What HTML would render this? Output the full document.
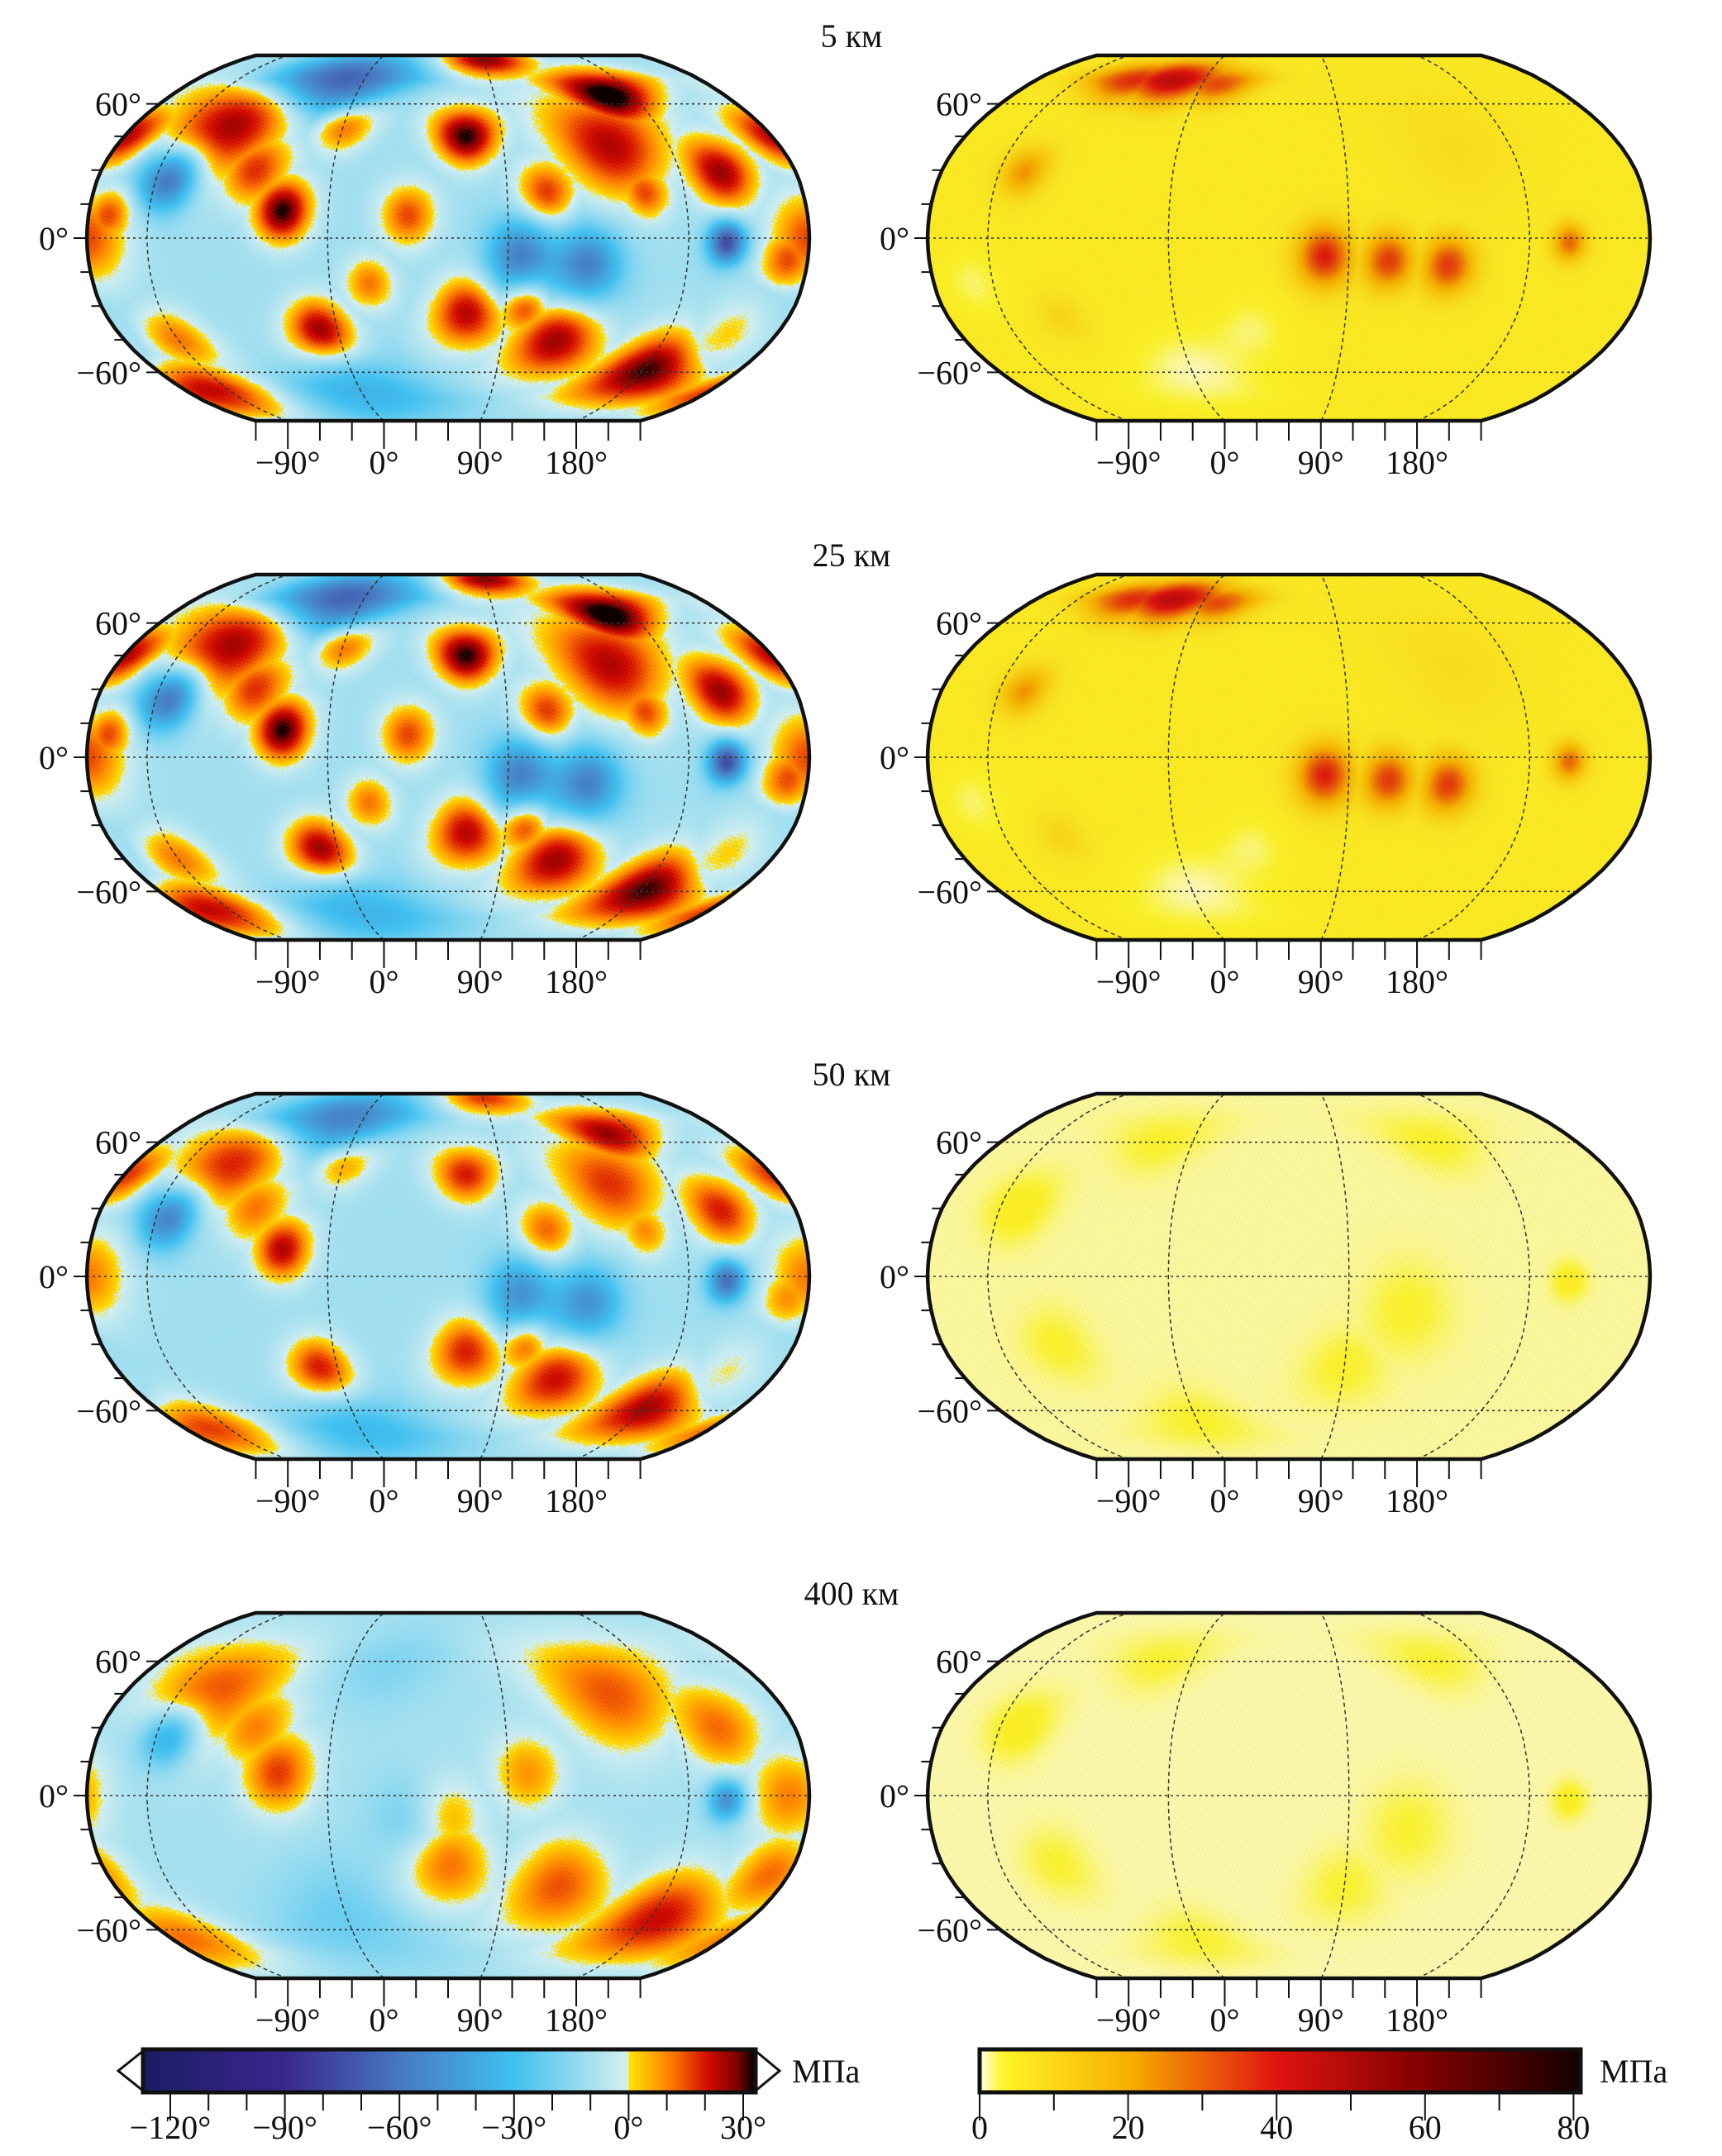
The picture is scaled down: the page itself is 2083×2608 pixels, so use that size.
<!DOCTYPE html>
<html><head><meta charset="utf-8">
<style>
html,body{margin:0;padding:0;background:#fff;}
#page{position:relative;width:2083px;height:2608px;overflow:hidden;background:#fff;}
canvas{position:absolute;}
svg{position:absolute;left:0;top:0;}
text{font-family:"Liberation Serif",serif;fill:#111;}
</style></head>
<body>
<div id="page">
<svg id="ov" width="2083" height="2608"></svg>
</div>
<script>
// ---- data ----
const rowTitles = ["5 км","25 км","50 км","400 км"];
const lonTickLabels = ["−90°","0°","90°","180°"];
const lonTickValues = [-90,0,90,180];
const latTickLabels = ["60°","0°","−60°"];
const latTickValues = [60,0,-60];
const leftBarTicks = [-120,-90,-60,-30,0,30];
const leftBarLabels = ["−120°","−90°","−60°","−30°","0°","30°"];
const rightBarTicks = [0,20,40,60,80];
const rightBarLabels = ["0","20","40","60","80"];

// left maps shallow: blob lon, lat, amplitude (MPa), radius (deg)
const shLon = [92,164,148,201,-64,-23,70,70,-9,120,184,217,241,-102,-40,40,110,-120,230,20,0,100,160,-90,250,-17,-83,96,130,199,0,-140];
const shLat = [85,64,41,29,49,12,45,-33,-41,-45,-59,-41,45,-70,30,10,20,0,-10,-20,50,-30,20,-45,10,72,26,-8,-12,-2,-70,-40];
const shAmp = [38,46,34,36,36,42,42,34,38,36,42,32,34,34,28,26,28,26,26,22,26,30,26,22,26,-65,-55,-45,-45,-65,-25,-20];
const shRad = [12,14,24,16,24,14,13,16,14,18,18,16,14,16,16,14,14,20,14,12,12,12,12,14,12,16,13,16,16,9,20,16];
// 50 km
const m50Lon = [92,164,148,201,-64,-23,70,70,-9,120,184,217,241,-102,-40,110,-120,230,0,100,160,-17,-83,96,130,199,0,-140];
const m50Lat = [85,64,41,29,49,12,45,-33,-41,-45,-59,-41,45,-70,30,20,0,-10,50,-30,20,72,26,-8,-12,-2,-70,-40];
const m50Amp = [28,36,28,30,30,34,30,30,32,32,36,28,28,28,22,24,22,20,20,26,20,-50,-48,-38,-38,-52,-22,-18];
const m50Rad = [12,14,22,16,22,14,13,16,14,18,18,16,14,16,16,14,20,14,12,12,12,16,13,16,16,9,20,16];
// 400 km
const m400Lon = [150,200,-70,-25,60,120,185,230,-110,-40,100,-130,60,-83,0,199,20,40];
const m400Lat = [45,30,45,10,-30,-40,-55,-35,-65,30,10,0,-10,26,-55,-2,60,-10];
const m400Amp = [24,22,25,26,22,24,31,22,22,20,18,20,16,-35,-12,-40,-8,-10];
const m400Rad = [26,20,26,18,20,22,22,18,18,18,18,20,18,13,25,9,20,18];
// right maps shallow (stress magnitude, MPa)
const rsLon = [-22,-50,10,-77,78,110,140,200,0,-100,40,150,-60];
const rsLat = [72,72,70,29,-8,-10,-12,-2,-60,-20,-40,40,-35];
const rsAmp = [42,32,28,18,34,30,30,24,-4,-3,-3,3,5];
const rsRad = [11,10,9,10,13,12,12,8,20,15,15,25,10];
// right maps deep
const rdLon = [-80,-20,120,200,-60,0,150,90];
const rdLat = [30,60,-15,-2,-30,-65,60,-40];
const rdAmp = [3,2,2,3,2,2,2,2];
const rdRad = [14,14,20,8,15,14,14,16];

const mapSpecs = [
 {row:0,col:0,base:-11,lon:shLon,lat:shLat,amp:shAmp,rad:shRad,cm:'L'},
 {row:1,col:0,base:-11,lon:shLon,lat:shLat,amp:shAmp,rad:shRad,cm:'L'},
 {row:2,col:0,base:-11,lon:m50Lon,lat:m50Lat,amp:m50Amp,rad:m50Rad,cm:'L'},
 {row:3,col:0,base:-10,lon:m400Lon,lat:m400Lat,amp:m400Amp,rad:m400Rad,cm:'L'},
 {row:0,col:1,base:5,lon:rsLon,lat:rsLat,amp:rsAmp,rad:rsRad,cm:'R'},
 {row:1,col:1,base:5,lon:rsLon,lat:rsLat,amp:rsAmp,rad:rsRad,cm:'R'},
 {row:2,col:1,base:1.2,lon:rdLon,lat:rdLat,amp:rdAmp,rad:rdRad,cm:'R'},
 {row:3,col:1,base:1.0,lon:rdLon,lat:rdLat,amp:rdAmp,rad:rdRad,cm:'R'}
];

// ---- geometry ----
const RX=[1,.9986,.9954,.99,.9822,.973,.96,.9427,.9216,.8962,.8679,.835,.7986,.7597,.7186,.6732,.6213,.5722,.5322];
const RY=[0,.062,.124,.186,.248,.31,.372,.434,.4958,.5571,.6176,.6769,.7346,.7903,.8435,.8936,.9394,.9761,1];
const HW=437, S=221, ROWH=628, COLW=1017, CLON=60;
function geo(row,col){return {cx:542+col*COLW, eq:288+row*ROWH};}
function interp(t,a){const f=Math.min(Math.abs(t)/5,17.9999);const i=Math.floor(f);return a[i]+(a[i+1]-a[i])*(f-i);}
function wrap(d){while(d>180)d-=360;while(d<-180)d+=360;return d;}
function proj(rel,lat,g){const X=interp(lat,RX),Y=interp(lat,RY)*Math.sign(lat);
  return [g.cx+rel/180*HW*X, g.eq-Y*S];}
function invLat(Y){const a=Math.abs(Y);let i=0;while(i<17&&RY[i+1]<a)i++;const t=(a-RY[i])/(RY[i+1]-RY[i]);return Math.sign(Y)*(i+t)*5;}

// ---- colormaps ----
const LSt=[[-135,[20,20,80]],[-120,[34,30,110]],[-90,[58,38,140]],[-60,[72,120,192]],[-30,[64,192,240]],[-0.01,[215,240,240]],[0,[255,230,0]],[10,[255,130,0]],[20,[210,10,0]],[27,[128,0,0]],[31,[15,0,0]]];
const RSt=[[0,[255,255,240]],[3,[255,245,40]],[20,[248,176,0]],[40,[224,20,16]],[60,[128,0,0]],[82,[15,0,0]]];
function cmap(v,st){if(v<=st[0][0])return st[0][1];for(let i=0;i<st.length-1;i++){if(v<=st[i+1][0]){const t=(v-st[i][0])/(st[i+1][0]-st[i][0]);return st[i][1].map((c,k)=>c+(st[i+1][1][k]-c)*t);}}return st[st.length-1][1];}

const page=document.getElementById('page');
const ov=document.getElementById('ov');
const NS='http://www.w3.org/2000/svg';
function el(tag,attrs,parent){const e=document.createElementNS(NS,tag);for(const k in attrs)e.setAttribute(k,attrs[k]);(parent||ov).appendChild(e);return e;}

// ---- render fields ----
mapSpecs.forEach(function(m){
  const g=geo(m.row,m.col);
  const W=437,H=222;
  const cv=document.createElement('canvas');
  
  
  cv.width=W;cv.height=H;
  cv.style.left=(g.cx-HW)+'px';cv.style.top=(g.eq-S)+'px';cv.style.width=(W*2)+'px';cv.style.height=(H*2)+'px';
  page.insertBefore(cv,ov);
  const ctx=cv.getContext('2d');const img=ctx.createImageData(W,H);const d=img.data;
  const st=m.cm==='L'?LSt:RSt;
  for(let j=0;j<H;j++){
    const y=g.eq-S+(j+0.5)*2;const Y=(g.eq-y)/S;if(Math.abs(Y)>1)continue;
    const lat=invLat(Y);const X=interp(lat,RX);const cl=Math.cos(lat*Math.PI/180);
    for(let i=0;i<W;i++){
      const x=g.cx-HW+(i+0.5)*2;const rel=(x-g.cx)/(HW*X)*180;if(Math.abs(rel)>180)continue;
      const lon=rel+CLON;let pos=0,neg=0;
      for(let b=0;b<m.lon.length;b++){const dx=wrap(lon-m.lon[b])*Math.max(cl,0.3);const dy=lat-m.lat[b];const r=m.rad[b];
        const c=m.amp[b]*Math.exp(-(dx*dx+dy*dy)/(r*r));
        if(c>0){if(c>pos)pos=c;}else neg+=c;}
      let v=m.base+pos+neg;
      const tex=Math.sin(i*1.7+j*2.3)*Math.sin(i*0.9-j*1.3);
      v+= (m.cm==='L'?2:0.8)*tex;
      const c=cmap(v,st);const p=(j*W+i)*4;
      const sh=m.cm==='R'?(1-0.05*Math.abs(tex)):1;
      d[p]=c[0]*sh;d[p+1]=c[1]*sh;d[p+2]=c[2]*sh;d[p+3]=255;
    }
  }
  ctx.putImageData(img,0,0);
});

// ---- overlay ----
for(let row=0;row<4;row++){
  const t=el('text',{x:1030,y:43+row*ROWH+14,'font-size':40,'text-anchor':'middle',});
  t.textContent=rowTitles[row];
  for(let col=0;col<2;col++){
    const g=geo(row,col);
    const grp=el('g',{});
    latTickValues.forEach(function(la){let pts=[];for(let r=-180;r<=180;r+=5)pts.push(proj(r,la,g));
      el('path',{d:'M'+pts.map(p=>p[0].toFixed(1)+','+p[1].toFixed(1)).join('L'),stroke:'#333','stroke-width':1.6,'stroke-dasharray':'3,4',fill:'none',},grp);});
    lonTickValues.forEach(function(lo){const rel=wrap(lo-CLON);let pts=[];for(let la=-90;la<=90;la+=5)pts.push(proj(rel,la,g));
      el('path',{d:'M'+pts.map(p=>p[0].toFixed(1)+','+p[1].toFixed(1)).join('L'),stroke:'#333','stroke-width':1.5,'stroke-dasharray':'5,4',fill:'none',},grp);});
    let pts=[];for(let la=-90;la<=90;la+=2.5)pts.push(proj(180,la,g));for(let la=90;la>=-90;la-=2.5)pts.push(proj(-180,la,g));
    el('path',{d:'M'+pts.map(p=>p[0].toFixed(1)+','+p[1].toFixed(1)).join('L')+'Z',stroke:'#111','stroke-width':4.5,fill:'none','stroke-linejoin':'round',},grp);
    for(let la=-60;la<=60;la+=15){const p=proj(-180,la,g);const L=(la%60===0)?16:12;
      el('line',{x1:p[0]-L,y1:p[1],x2:p[0],y2:p[1],stroke:'#111','stroke-width':2,},grp);}
    latTickValues.forEach(function(la,k){const p=proj(-180,la,g);
      const tx=el('text',{x:p[0]-22,y:p[1]+14,'font-size':40,'text-anchor':'end',},grp);tx.textContent=latTickLabels[k];});
    for(let lo=-120;lo<=240;lo+=30){const p=proj(lo-CLON,-90,g);const maj=lonTickValues.indexOf(lo)>=0;
      el('line',{x1:p[0],y1:p[1],x2:p[0],y2:p[1]+(maj?34:24),stroke:'#111','stroke-width':2,},grp);}
    lonTickValues.forEach(function(lo,k){const p=proj(lo-CLON,-90,g);
      const tx=el('text',{x:p[0],y:g.eq+285,'font-size':40,'text-anchor':'middle',},grp);tx.textContent=lonTickLabels[k];});
  }
}

// ---- colorbars ----
const defs=el('defs',{});
function grad(id,st,v0,v1){const lg=el('linearGradient',{id:id,x1:0,x2:1,y1:0,y2:0},defs);
  for(let k=0;k<=60;k++){const v=v0+(v1-v0)*k/60;const c=cmap(v,st);el('stop',{offset:(k/60),'stop-color':'rgb('+c.map(Math.round).join(',')+')'},lg);}
}
function lx(v){return 206+(v+120)*4.62;}
function rx(v){return 1185+v*8.98;}
grad('gL',LSt,-127,-0.02);grad('gL2',LSt,0,31.7);grad('gR',RSt,0,81);
const cbL=el('g',{});
el('polygon',{points:'173,2481 143,2505 173,2529','fill':'#fff',stroke:'#111','stroke-width':3},cbL);
el('polygon',{points:'914,2481 943,2505 914,2529','fill':'#fff',stroke:'#111','stroke-width':3},cbL);
el('rect',{x:173,y:2479,width:lx(0)-173,height:52,fill:'url(#gL)'},cbL);
el('rect',{x:lx(0),y:2479,width:914-lx(0),height:52,fill:'url(#gL2)'},cbL);
el('rect',{x:173,y:2479,width:741,height:52,fill:'none',stroke:'#111','stroke-width':5},cbL);
for(let v=-120;v<=30;v+=10){const maj=leftBarTicks.indexOf(v)>=0;el('line',{x1:lx(v),y1:2531,x2:lx(v),y2:2531+(maj?34:22),stroke:'#111','stroke-width':2,},cbL);}
leftBarTicks.forEach(function(v,k){const t=el('text',{x:lx(v),y:2587,'font-size':40,'text-anchor':'middle',},cbL);t.textContent=leftBarLabels[k];});
const uL=el('text',{x:958,y:2519,'font-size':40,},cbL);uL.textContent='МПа';

const cbR=el('g',{});
el('rect',{x:1185,y:2479,width:727,height:52,fill:'url(#gR)',stroke:'#111','stroke-width':5},cbR);
for(let v=0;v<=80;v+=10){const maj=rightBarTicks.indexOf(v)>=0;el('line',{x1:rx(v),y1:2531,x2:rx(v),y2:2531+(maj?34:22),stroke:'#111','stroke-width':2,},cbR);}
rightBarTicks.forEach(function(v,k){const t=el('text',{x:rx(v),y:2587,'font-size':40,'text-anchor':'middle',},cbR);t.textContent=rightBarLabels[k];});
const uR=el('text',{x:1935,y:2519,'font-size':40,},cbR);uR.textContent='МПа';
</script>
</body></html>
